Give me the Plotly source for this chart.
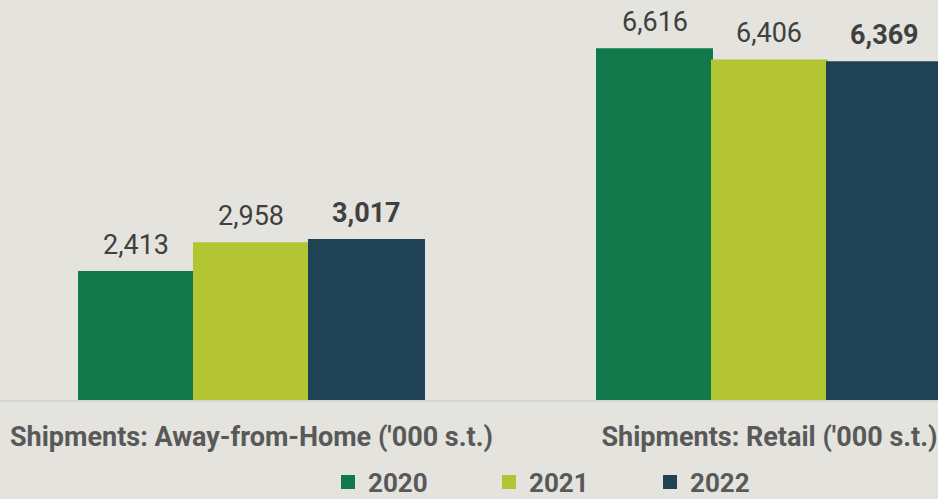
import plotly.graph_objects as go

categories = ["Shipments: Away-from-Home ('000 s.t.)", "Shipments: Retail ('000 s.t.)"]
years = ["2020", "2021", "2022"]
values_2020 = [2413, 6616]
values_2021 = [2958, 6406]
values_2022 = [3017, 6369]
colors = ["#10784b", "#b3c533", "#1f4254"]

BARGAP = 0.334
series = [values_2020, values_2021, values_2022]
n = len(series)
bar_w = (1 - BARGAP) / n

fig = go.Figure()
for j, (yr, vals, col) in enumerate(zip(years, series, colors)):
    fig.add_trace(go.Bar(
        x=categories, y=vals, name=yr,
        marker=dict(color=col, line=dict(color=col, width=2)),
        cliponaxis=False,
    ))
    for i, v in enumerate(vals):
        txt = f"{v:,}"
        if yr == "2022":
            txt = f"<b>{txt}</b>"
        fig.add_annotation(
            x=i + (j - (n - 1) / 2) * bar_w, y=v, xref="x", yref="y",
            text=txt, showarrow=False, yanchor="bottom", yshift=9,
            font=dict(family="Roboto", size=27, color="#404040"),
        )

fig.update_layout(
    template="none",
    width=938, height=499,
    margin=dict(l=0, r=0, t=0, b=99, autoexpand=False),
    paper_bgcolor="#e4e3de", plot_bgcolor="#e4e3de",
    barmode="group", bargap=BARGAP, bargroupgap=0,
    font=dict(family="Roboto", color="#595959"),
    showlegend=True,
    legend=dict(orientation="h", x=0.3497, xanchor="left", yref="container", y=0.034, yanchor="middle",
                font=dict(family="Roboto", size=26, color="#595959", weight="bold"),
                entrywidth=116, entrywidthmode="pixels", bgcolor="rgba(0,0,0,0)"),
    xaxis=dict(range=[-0.4855, 1.3253], showline=True, linecolor="#d6d6d2", linewidth=2,
               showgrid=False, zeroline=False, ticks="", ticklabelstandoff=12, automargin=False,
               tickfont=dict(family="Roboto", size=27, color="#595959", weight="bold")),
    yaxis=dict(range=[0, 7545], visible=False, showgrid=False, zeroline=False, automargin=False),
)
fig.write_html("out.html", config={"displayModeBar": False},
               post_script="document.body.style.margin='0';")
